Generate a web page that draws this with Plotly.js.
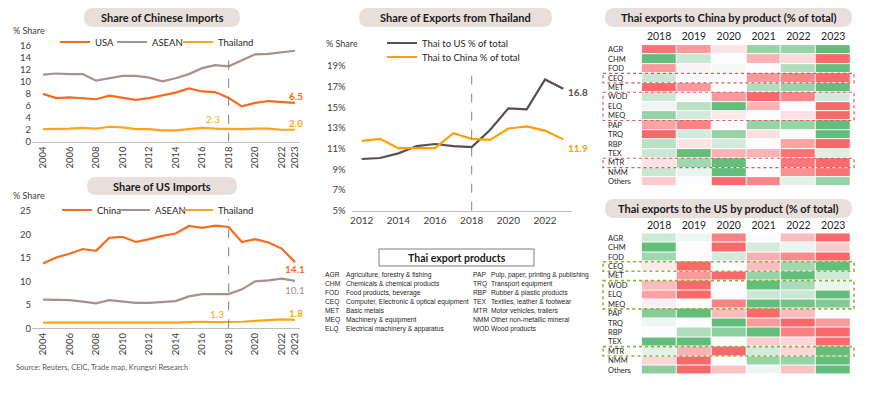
<!DOCTYPE html>
<html>
<head>
<meta charset="utf-8">
<script src="https://cdn.plot.ly/plotly-3.0.1.min.js"></script>
<style>html,body{margin:0;padding:0;background:#fff;}#chart{width:870px;height:394px;}</style>
</head>
<body>
<div id="chart"></div>
<script>
// ---------- DATA ----------
const years = [2004,2005,2006,2007,2008,2009,2010,2011,2012,2013,2014,2015,2016,2017,2018,2019,2020,2021,2022,2023];
const yearTicks = [2004,2006,2008,2010,2012,2014,2016,2018,2020,2022,2023];
// Share of Chinese imports (%)
const cnFromUSA   = [8.0,7.3,7.4,7.3,7.1,7.7,7.4,7.0,7.3,7.8,8.2,8.9,8.4,8.3,7.3,5.9,6.5,6.8,6.6,6.5];
const cnFromASEAN = [11.2,11.4,11.3,11.3,10.2,10.6,11.0,11.0,10.7,10.1,10.6,11.3,12.3,12.8,12.6,13.6,14.6,14.7,15.0,15.2];
const cnFromThai  = [2.1,2.1,2.2,2.3,2.2,2.5,2.4,2.1,2.1,1.9,1.9,2.1,2.3,2.2,2.1,2.1,2.2,2.2,2.0,2.0];
// Share of US imports (%)
const usFromChina = [13.8,15.1,15.9,16.9,16.5,19.3,19.5,18.4,19.0,19.7,20.2,21.8,21.4,21.9,21.6,18.4,19.0,18.3,17.0,14.1];
const usFromASEAN = [6.1,6.0,6.0,5.7,5.3,6.0,5.7,5.4,5.4,5.6,5.8,6.8,7.3,7.3,7.3,8.3,10.0,10.2,10.6,10.1];
const usFromThai  = [1.2,1.2,1.2,1.2,1.1,1.2,1.2,1.1,1.2,1.2,1.2,1.3,1.4,1.3,1.3,1.4,1.6,1.7,1.9,1.8];
// Share of exports from Thailand (%)
const expYears = [2012,2013,2014,2015,2016,2017,2018,2019,2020,2021,2022,2023];
const thaiToUS    = [10.0,10.1,10.55,11.25,11.45,11.25,11.15,12.8,14.9,14.8,17.7,16.8];
const thaiToChina = [11.75,11.95,11.05,11.05,11.05,12.5,11.95,11.85,12.95,13.15,12.75,11.9];
// Heatmaps (relative colour score, -3 = deepest red, +3 = deepest green)
const hmYears = ['2018','2019','2020','2021','2022','2023'];
const products = ['AGR','CHM','FOD','CEQ','MET','WOD','ELQ','MEQ','PAP','TRQ','RBP','TEX','MTR','NMM','Others'];
const chinaScores = [
  [-2.8,-2,-0.5,2,2,3],
  [3,1,0,-1.5,-0.7,-3],
  [-2,-0.2,0.2,0,1.5,3],
  [1,0,0,-2,-2.4,-3],
  [-3,-2,0,1.5,2,3],
  [1,0,-2,-3,-2.4,0.8],
  [0.3,1.3,3,-1.5,0,-3],
  [2,0.8,-0.4,0,-0.6,-3],
  [-1.8,-2.5,0,2,2,3],
  [-3,0.8,2,-0.6,0,3],
  [1.3,-0.5,0.8,0,-1.8,-3],
  [1,3,-1.5,-1.5,-2.8,0.6],
  [-0.5,1.8,3,0,-2.7,-3],
  [1,0.4,3,0,-2.2,-2.8],
  [-1,0,-3,-2.4,0.5,2]
];
const usScores = [
  [0.9,0.3,-2.5,0,-1.3,-3],
  [3,0,-3,0.8,0.4,-1],
  [1.8,0,0.8,-1.6,-2.3,-3],
  [-0.4,-3,0,-1.3,1.8,3],
  [0,-2,-3,2,3,0.9],
  [-1.3,-3,0,3,1.6,0.4],
  [-1.8,-3,0,1,1,3],
  [-0.3,0,-2.5,3,2.7,2.4],
  [2.3,3,-1.3,-3,-1.3,0],
  [0.3,0,3,-2,-3,-2],
  [0,1.5,2.2,3,-2.5,-3],
  [3,3,0,-1,-0.8,-3],
  [0.5,-1.5,-3,0.8,-0.8,3],
  [-0.8,-3,0,2,2,3],
  [2.2,-3,-1.2,0.3,-1.2,3]
];
// Product glossary
const glossCodes = ['AGR','CHM','FOD','CEQ','MET','MEQ','ELQ','PAP','TRQ','RBP','TEX','MTR','NMM','WOD'];
const glossNames = ['Agriculture, forestry & fishing','Chemicals & chemical products','Food products, beverage',
  'Computer, Electronic & optical equipment','Basic metals','Machinery & equipment','Electrical machinery & apparatus',
  'Pulp, paper, printing & publishing','Transport equipment','Rubber & plastic products','Textiles, leather & footwear',
  'Motor vehicles, trailers','Other non-metallic mineral','Wood products'];

// ---------- HELPERS ----------
const W = 870, H = 394;
const px = v => v / W;
const py = v => 1 - v / H;
const FONT = 'Lato, "Liberation Sans", sans-serif';
const C_RED = '#F76B1C', C_ASEAN = '#A8918C', C_THAI = '#FFA41B', C_US3 = '#5A4E4E', C_CN3 = '#FFA000';
const TXT = '#404040';

function pill(x0, y0, x1, y1) {
  const r = (y1 - y0) / 2;
  const P = (x, y) => px(x).toFixed(5) + ',' + py(y).toFixed(5);
  return 'M' + P(x0 + r, y0) + ' L' + P(x1 - r, y0) + ' Q' + P(x1, y0) + ' ' + P(x1, y0 + r) +
    ' Q' + P(x1, y1) + ' ' + P(x1 - r, y1) + ' L' + P(x0 + r, y1) + ' Q' + P(x0, y1) + ' ' + P(x0, y0 + r) +
    ' Q' + P(x0, y0) + ' ' + P(x0 + r, y0) + ' Z';
}

function line(x, y, name, color, xa, ya, leg) {
  return {type: 'scatter', mode: 'lines', x: x, y: y, name: name, xaxis: xa, yaxis: ya, legend: leg,
    showlegend: true, line: {color: color, width: 2.2}, hoverinfo: 'skip'};
}

// ---------- TRACES ----------
const traces = [
  line(years, cnFromUSA, 'USA', C_RED, 'x', 'y', 'legend'),
  line(years, cnFromASEAN, 'ASEAN', C_ASEAN, 'x', 'y', 'legend2'),
  line(years, cnFromThai, 'Thailand', C_THAI, 'x', 'y', 'legend3'),
  line(years, usFromChina, 'China', C_RED, 'x2', 'y2', 'legend4'),
  line(years, usFromASEAN, 'ASEAN', C_ASEAN, 'x2', 'y2', 'legend5'),
  line(years, usFromThai, 'Thailand', C_THAI, 'x2', 'y2', 'legend6'),
  line(expYears, thaiToUS, 'Thai to US % of total', C_US3, 'x3', 'y3', 'legend7'),
  line(expYears, thaiToChina, 'Thai to China % of total', C_CN3, 'x3', 'y3', 'legend8')
];
const hmScale = [[0, '#F8696B'], [0.5, '#FCFCFF'], [1, '#63BE7B']];
traces.push({type: 'heatmap', x: hmYears, y: products, z: chinaScores, xaxis: 'x4', yaxis: 'y4',
  colorscale: hmScale, zmin: -3, zmax: 3, showscale: false, xgap: 1, ygap: 1, hoverinfo: 'skip', showlegend: false});
traces.push({type: 'heatmap', x: hmYears, y: products, z: usScores, xaxis: 'x5', yaxis: 'y5',
  colorscale: hmScale, zmin: -3, zmax: 3, showscale: false, xgap: 1, ygap: 1, hoverinfo: 'skip', showlegend: false});

// ---------- AXES ----------
const tf = {family: FONT, size: 9.5, color: TXT};
const baseX = {showgrid: false, zeroline: false, ticks: '', showline: true, linecolor: '#BFBFBF', linewidth: 1, tickfont: tf, fixedrange: true};
const baseY = {showgrid: false, zeroline: false, ticks: '', showline: false, tickfont: tf, fixedrange: true};

const layout = {
  width: W, height: H, autosize: false, showlegend: true,
  margin: {l: 0, r: 0, t: 0, b: 0, pad: 0},
  paper_bgcolor: '#ffffff', plot_bgcolor: 'rgba(0,0,0,0)',
  font: {family: FONT, color: TXT},
  xaxis: Object.assign({}, baseX, {domain: [px(32), px(300)], range: [2003.17, 2023.38], tickmode: 'array', tickvals: yearTicks, tickangle: -90, anchor: 'y'}),
  yaxis: Object.assign({}, baseY, {domain: [py(141.7), py(46)], range: [0, 16], dtick: 2, anchor: 'x'}),
  xaxis2: Object.assign({}, baseX, {domain: [px(32), px(300)], range: [2003.17, 2023.38], tickmode: 'array', tickvals: yearTicks, tickangle: -90, anchor: 'y2'}),
  yaxis2: Object.assign({}, baseY, {domain: [py(328.3), py(211)], range: [0, 25], dtick: 5, anchor: 'x2'}),
  xaxis3: Object.assign({}, baseX, {domain: [px(351.7), px(571.7)], range: [2011.455, 2023.455], tick0: 2012, dtick: 2, tickangle: 0, anchor: 'y3', tickfont: {family: FONT, size: 10, color: TXT}}),
  yaxis3: Object.assign({}, baseY, {domain: [py(210.7), py(66)], range: [5, 19], tick0: 5, dtick: 2, ticksuffix: '%', anchor: 'x3', ticklabelstandoff: 5}),
  xaxis4: {domain: [px(641.7), px(850.7)], type: 'category', side: 'top', anchor: 'y4', showgrid: false, zeroline: false, showline: false, ticks: '', tickfont: {family: FONT, size: 10.5, color: '#262626'}, fixedrange: true},
  yaxis4: {domain: [py(188.3), py(43.3)], type: 'category', autorange: 'reversed', anchor: 'x4', showgrid: false, zeroline: false, showticklabels: false, ticks: '', fixedrange: true},
  xaxis5: {domain: [px(641.7), px(850.7)], type: 'category', side: 'top', anchor: 'y5', showgrid: false, zeroline: false, showline: false, ticks: '', tickfont: {family: FONT, size: 10.5, color: '#262626'}, fixedrange: true},
  yaxis5: {domain: [py(376.7), py(231.7)], type: 'category', autorange: 'reversed', anchor: 'x5', showgrid: false, zeroline: false, showticklabels: false, ticks: '', fixedrange: true},
  shapes: [],
  annotations: []
};

// ---------- LEGENDS ----------
const legFont = {family: FONT, size: 9.5, color: '#262626'};
function leg(x, y) {
  return {visible: true, x: px(x), y: py(y), xanchor: 'left', yanchor: 'middle', orientation: 'h', bgcolor: 'rgba(0,0,0,0)',
    borderwidth: 0, font: legFont, itemwidth: 30, itemclick: false, itemdoubleclick: false};
}
layout.legend = leg(55, 42);
layout.legend2 = leg(112, 42);
layout.legend3 = leg(178, 42);
layout.legend4 = leg(57, 210);
layout.legend5 = leg(115, 210);
layout.legend6 = leg(178, 210);
layout.legend7 = leg(382, 43);
layout.legend8 = leg(382, 57);

// ---------- SHAPES ----------
const pillFill = '#E8DFDC';
[[84, 8, 240, 27], [87, 177, 237, 195], [359, 8, 552, 27], [605, 8, 852, 27], [605, 199, 852, 218]].forEach(b => {
  layout.shapes.push({type: 'path', xref: 'paper', yref: 'paper', path: pill(b[0], b[1], b[2], b[3]), fillcolor: pillFill, line: {width: 0}, layer: 'below'});
});
const dash = {color: '#808080', width: 1, dash: 'dash'};
layout.shapes.push({type: 'line', xref: 'x', yref: 'y', x0: 2018, x1: 2018, y0: 0, y1: 15.0, line: dash});
layout.shapes.push({type: 'line', xref: 'x2', yref: 'y2', x0: 2018, x1: 2018, y0: 0, y1: 23.3, line: dash});
layout.shapes.push({type: 'line', xref: 'x3', yref: 'y3', x0: 2018, x1: 2018, y0: 5, y1: 18.45, line: dash});
// glossary box
layout.shapes.push({type: 'rect', xref: 'paper', yref: 'paper', x0: px(379), x1: px(534), y0: py(266), y1: py(249), line: {color: '#7F7F7F', width: 1}, fillcolor: '#ffffff'});
// highlight boxes
const redDot = {color: '#E0575A', width: 1.2, dash: 'dot'};
const grnDot = {color: '#8FB339', width: 1.6, dash: 'dot'};
[[2.5, 3.5], [4.5, 7.5], [11.5, 12.5]].forEach(r => {
  layout.shapes.push({type: 'rect', xref: 'paper', yref: 'y4', x0: px(603), x1: px(854), y0: r[0], y1: r[1], line: redDot});
  layout.shapes.push({type: 'rect', xref: 'paper', yref: 'y5', x0: px(603), x1: px(854), y0: r[0], y1: r[1], line: grnDot});
});

// ---------- ANNOTATIONS ----------
const A = layout.annotations;
function ptxt(text, x, y, opts) {
  A.push(Object.assign({xref: 'paper', yref: 'paper', x: px(x), y: py(y), text: text, showarrow: false,
    xanchor: 'left', yanchor: 'middle', font: {family: FONT, size: 9, color: TXT}}, opts || {}));
}
const titleFont = {family: FONT, size: 11, color: '#1A1A1A'};
ptxt('<b>Share of Chinese Imports</b>', 162, 17.5, {xanchor: 'center', font: titleFont});
ptxt('<b>Share of US Imports</b>', 162, 186, {xanchor: 'center', font: titleFont});
ptxt('<b>Share of Exports from Thailand</b>', 455.5, 17.5, {xanchor: 'center', font: titleFont});
ptxt('<b>Thai exports to China by product (% of total)</b>', 728.5, 17.5, {xanchor: 'center', font: titleFont});
ptxt('<b>Thai exports to the US by product (% of total)</b>', 728.5, 208.5, {xanchor: 'center', font: titleFont});
ptxt('% Share', 11, 31);
ptxt('% Share', 11, 195);
ptxt('% Share', 324, 43);
ptxt('Source: Reuters, CEIC, Trade map, Krungsri Research', 14, 367, {font: {family: FONT, size: 7.5, color: '#595959'}});
ptxt('<b>Thai export products</b>', 456.5, 257.5, {xanchor: 'center', font: {family: FONT, size: 10.5, color: '#1A1A1A'}});
const gFont = {family: '"Liberation Sans", Arial, sans-serif', size: 6.7, color: '#262626'};
glossCodes.forEach((c, i) => {
  const col = i < 7 ? 0 : 1, row = i % 7;
  const yy = 274.7 + row * 9;
  ptxt(c, col ? 471 : 323, yy, {font: gFont});
  ptxt(glossNames[i], col ? 489 : 344, yy, {font: gFont});
});
// heatmap row labels
products.forEach(p => {
  A.push({xref: 'paper', yref: 'y4', x: px(606), y: p, text: p, showarrow: false, xanchor: 'left', yanchor: 'middle', font: {family: FONT, size: 7.5, color: '#262626'}});
  A.push({xref: 'paper', yref: 'y5', x: px(606), y: p, text: p, showarrow: false, xanchor: 'left', yanchor: 'middle', font: {family: FONT, size: 7.5, color: '#262626'}});
});
// data labels
function dl(xa, ya, x, y, text, color, bold, anchor) {
  A.push({xref: xa, yref: ya, x: x, y: y, text: bold ? '<b>' + text + '</b>' : text, showarrow: false,
    xanchor: anchor || 'center', yanchor: 'middle', font: {family: FONT, size: 10, color: color}});
}
dl('x', 'y', 2023, 16.3, cnFromASEAN[19].toFixed(1), C_ASEAN, false);
dl('x', 'y', 2023.1, 7.7, cnFromUSA[19].toFixed(1), C_RED, true);
dl('x', 'y', 2023.1, 3.1, cnFromThai[19].toFixed(1), C_THAI, true);
dl('x', 'y', 2016.8, 3.8, '2.3', C_THAI, false);
dl('x2', 'y2', 2023, 12.6, usFromChina[19].toFixed(1), C_RED, true);
dl('x2', 'y2', 2023, 8.1, usFromASEAN[19].toFixed(1), C_ASEAN, false);
dl('x2', 'y2', 2023.1, 3.3, usFromThai[19].toFixed(1), C_THAI, true);
dl('x2', 'y2', 2017.1, 3.05, '1.3', C_THAI, false);
dl('x3', 'y3', 2023.15, 16.45, thaiToUS[11].toFixed(1), C_US3, true, 'left');
dl('x3', 'y3', 2023.15, 11.05, thaiToChina[11].toFixed(1), C_CN3, true, 'left');

Plotly.newPlot('chart', traces, layout, {staticPlot: true, displayModeBar: false});
</script>
</body>
</html>
